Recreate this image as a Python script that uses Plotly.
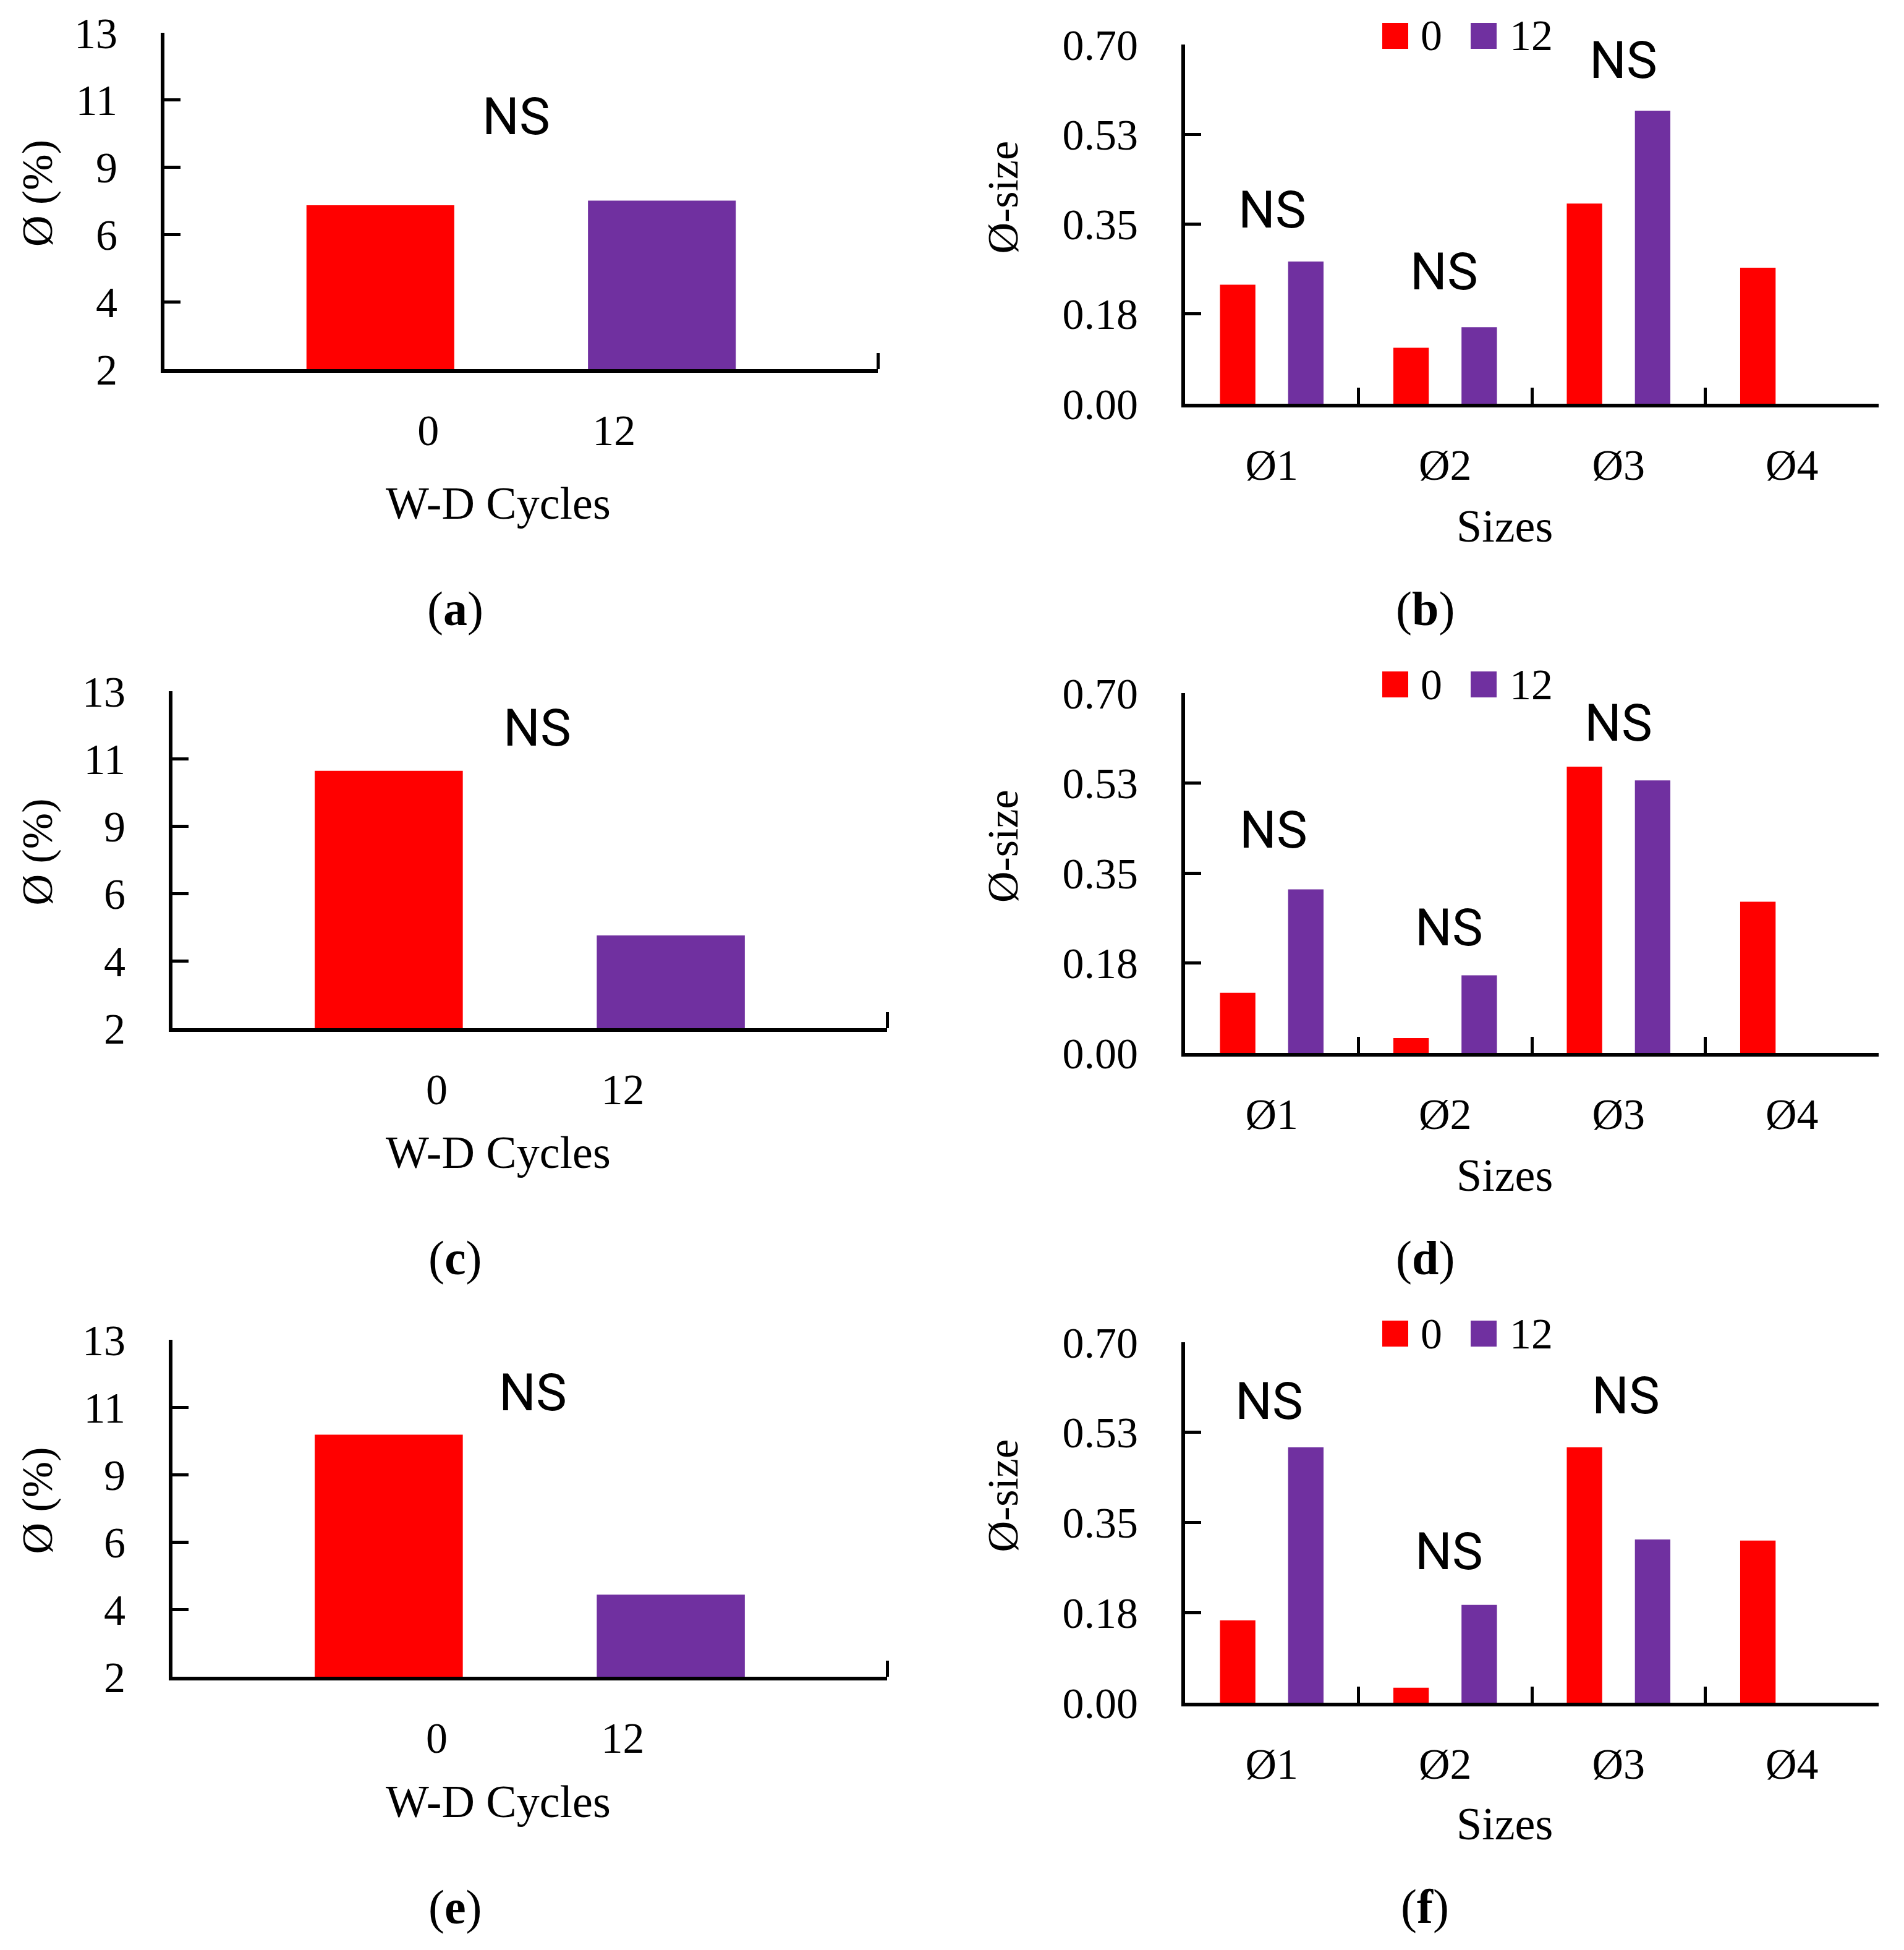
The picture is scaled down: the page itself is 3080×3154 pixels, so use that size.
import plotly.graph_objects as go

# ── Data ─────────────────────────────────────────────────────────────────────
cycles = ["0", "12"]
size_classes = ["Ø1", "Ø2", "Ø3", "Ø4"]

# porosity (%) at 0 and 12 W-D cycles, panels a / c / e
por_a = [7.36, 7.51]
por_c = [10.40, 5.03]
por_e = [9.90, 4.68]

# Ø-size per size class, panels b / d / f
size_b_0 = [0.232, 0.109, 0.390, 0.265]
size_b_12 = [0.277, 0.149, 0.571, 0.0]
size_d_0 = [0.117, 0.029, 0.557, 0.294]
size_d_12 = [0.318, 0.151, 0.530, 0.0]
size_f_0 = [0.160, 0.029, 0.496, 0.315]
size_f_12 = [0.496, 0.190, 0.317, 0.0]

por_tickvals = [2, 4.2, 6.4, 8.6, 10.8, 13]
por_ticktext = ["2", "4", "6", "9", "11", "13"]
size_tickvals = [0, 0.175, 0.35, 0.525, 0.70]
size_ticktext = ["0.00", "0.18", "0.35", "0.53", "0.70"]

# ── Style ────────────────────────────────────────────────────────────────────
W, H = 3080, 3154
RED = "#FF0000"
PURPLE = "#7030A0"
SERIF = "Liberation Serif, Times New Roman, serif"
NARROW = "Liberation Sans Narrow, Arial Narrow, Roboto, sans-serif"
FS = 70
TITLE_FS = 74
LINE_W = 6
DY = -4  # small global nudge upwards


def px(x):
    return x / W


def py(y):
    return 1 - (y + DY) / H


# pixel boxes (left, top, right, bottom) for each panel
left_panels = [
    # letter, values, box, ns(x,y), xtitle y, letter y
    ("a", por_a, (266, 57, 1420, 601), (835, 192), 818, 988),
    ("c", por_c, (279, 1122, 1435, 1667), (869, 1181), 1868, 2038),
    ("e", por_e, (279, 2171, 1435, 2716), (862, 2256), 2918, 3088),
]
right_panels = [
    ("b", size_b_0, size_b_12, (1917, 76, 3039, 657),
     [(2058, 343), (2336, 443), (2626, 102)], 855, 988),
    ("d", size_d_0, size_d_12, (1917, 1125, 3039, 1707),
     [(2060, 1346), (2344, 1505), (2618, 1173)], 1905, 2038),
    ("f", size_f_0, size_f_12, (1917, 2175, 3039, 2758),
     [(2053, 2270), (2344, 2513), (2630, 2261)], 2954, 3087),
]

fig = go.Figure()
annotations = []
shapes = []
layout = {}

X_RANGE = [-0.767, 1.767]


def note(text, x, y, size=FS, family=SERIF, angle=0, xanchor="center"):
    annotations.append(dict(
        text=text, x=px(x), y=py(y), xref="paper", yref="paper",
        xanchor=xanchor, yanchor="middle", showarrow=False, textangle=angle,
        font=dict(family=family, size=size, color="black"),
    ))


axis_no = 1
for letter, values, box, ns, xt_y, let_y in left_panels:
    l, t, r, b = box
    xa = "x" if axis_no == 1 else f"x{axis_no}"
    ya = "y" if axis_no == 1 else f"y{axis_no}"
    fig.add_trace(go.Bar(
        x=list(range(len(cycles))), y=values, width=0.525,
        marker=dict(color=[RED, PURPLE], line=dict(width=0)),
        xaxis=xa, yaxis=ya, showlegend=False,
    ))
    layout[f"xaxis{axis_no}"] = dict(
        domain=[px(l), px(r)], anchor=ya, range=X_RANGE, automargin=False,
        tickmode="array", tickvals=[0.17, 0.83], ticktext=cycles,
        ticks="", showline=True, linewidth=LINE_W, linecolor="black",
        showgrid=False, zeroline=False, ticklabelstandoff=33,
        tickfont=dict(family=SERIF, size=FS, color="black"),
        minor=dict(tickmode="array", tickvals=[X_RANGE[1]], ticks="inside",
                   ticklen=26, tickwidth=5, tickcolor="black", showgrid=False),
    )
    layout[f"yaxis{axis_no}"] = dict(
        domain=[py(b), py(t)], anchor=xa, range=[2, 13], automargin=False,
        tickmode="array", tickvals=por_tickvals, ticktext=por_ticktext,
        ticks="inside", ticklen=26, tickwidth=5, tickcolor="black",
        showline=True, linewidth=LINE_W, linecolor="black",
        showgrid=False, zeroline=False, ticklabelstandoff=56,
        tickfont=dict(family=SERIF, size=FS, color="black"),
    )
    note("NS", ns[0], ns[1], size=84, family=NARROW)
    note("W-D Cycles", 806, xt_y, size=TITLE_FS)
    note(f"(<b>{letter}</b>)", 736, let_y, size=78)
    note("Ø (%)", 60, (t + b) / 2 - 12, angle=-90)
    axis_no += 2

axis_no = 2
for letter, v0, v12, box, ns_list, xt_y, let_y in right_panels:
    l, t, r, b = box
    xa = f"x{axis_no}"
    ya = f"y{axis_no}"
    fig.add_trace(go.Bar(
        x=size_classes, y=v0, name=cycles[0], marker=dict(color=RED, line=dict(width=0)),
        xaxis=xa, yaxis=ya, showlegend=False,
    ))
    fig.add_trace(go.Bar(
        x=size_classes, y=v12, name=cycles[1], marker=dict(color=PURPLE, line=dict(width=0)),
        xaxis=xa, yaxis=ya, showlegend=False,
    ))
    layout[f"xaxis{axis_no}"] = dict(
        domain=[px(l), px(r)], anchor=ya, type="category", automargin=False,
        tickson="boundaries", ticks="inside", ticklen=26, tickwidth=5,
        tickcolor="black", showline=True, linewidth=LINE_W, linecolor="black",
        showgrid=False, zeroline=False, ticklabelstandoff=33,
        tickfont=dict(family=SERIF, size=FS, color="black"),
    )
    layout[f"yaxis{axis_no}"] = dict(
        domain=[py(b), py(t)], anchor=xa, range=[0, 0.70], automargin=False,
        tickmode="array", tickvals=size_tickvals, ticktext=size_ticktext,
        ticks="inside", ticklen=26, tickwidth=5, tickcolor="black",
        showline=True, linewidth=LINE_W, linecolor="black",
        showgrid=False, zeroline=False, ticklabelstandoff=56,
        tickfont=dict(family=SERIF, size=FS, color="black"),
    )
    for nx, ny in ns_list:
        note("NS", nx, ny, size=84, family=NARROW)
    note("Sizes", 2434, xt_y, size=TITLE_FS)
    note(f"(<b>{letter}</b>)", 2305, let_y, size=78)
    note("Ø-size", 1622, (t + b) / 2 - 43, angle=-90)

    # legend swatches above the plot
    ly = t - 14
    for x0, col, lab, tx in [(2236, RED, cycles[0], 2296), (2379, PURPLE, cycles[1], 2440)]:
        shapes.append(dict(
            type="rect", xref="paper", yref="paper",
            x0=px(x0), x1=px(x0 + 42), y0=py(ly + 21), y1=py(ly - 21),
            fillcolor=col, line=dict(width=0),
        ))
        note(lab, tx, ly, xanchor="left")
    axis_no += 2

fig.update_layout(
    width=W, height=H, autosize=False,
    margin=dict(l=0, r=0, t=0, b=0, pad=0),
    paper_bgcolor="white", plot_bgcolor="white",
    barmode="group", bargap=0.214, bargroupgap=0.48,
    annotations=annotations, shapes=shapes,
    **layout,
)

fig.write_html(
    "out.html",
    config={"displayModeBar": False},
    post_script="document.body.style.margin='0';",
)
